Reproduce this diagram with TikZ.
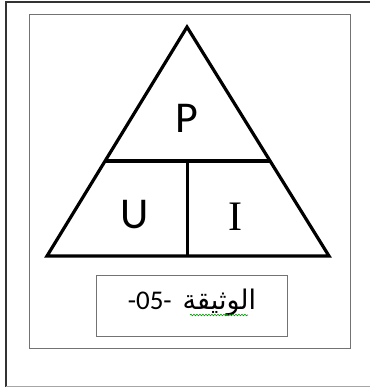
\documentclass[tikz,border=0pt]{standalone}
\usepackage{fontspec}
\setmainfont{Carlito}
\newfontfamily\timesfont{Liberation Serif}
\newfontfamily\arabicfont[Script=Arabic]{DejaVu Sans}
\TeXXeTstate=1
\usetikzlibrary{calc,decorations.pathmorphing}
\tikzset{
  frameline/.style={draw=black!55,line width=1pt},
  triline/.style={line width=3.2pt,line join=miter},
  letter/.style={font=\fontsize{44}{44}\selectfont,inner sep=0pt},
}

\begin{document}
\begin{tikzpicture}[x=1pt,y=-1pt]
  \useasboundingbox (0,0) rectangle (370,387);
  % frames
  \draw[line width=1.5pt,black!80] (370,2) -- (6,2) -- (6,387);
  \draw[frameline,draw=black!35] (6,386) -- (370,386);
  \draw[frameline] (29,15) rectangle (350,348);
  % triangle
  \coordinate (A) at (187,27);
  \coordinate (B) at (47,256);
  \coordinate (C) at (329,256);
  \draw[triline] (A) -- (B) -- (C) -- cycle;
  \coordinate (L) at ($(A)!0.585!(B)$);
  \coordinate (R) at ($(A)!0.585!(C)$);
  \coordinate (M) at ($(L)!0.5!(R)$);
  \draw[triline] (L) -- (R);
  \draw[triline] (M) -- (M |- B);
  % letters
  \node[letter] (P) at (187,118) {P};
  \node[letter] (U) at (135,215) {U};
  \node[letter,font=\timesfont\fontsize{42}{42}\selectfont] (I) at (235,217) {I};
  % document label
  \node[frameline,minimum width=191pt,minimum height=61pt,inner sep=0pt] (doc) at (191.5,305.5) {};
  \node[inner sep=0pt,anchor=base] (doctext) at (192,309)
        {\fontsize{27}{27}\arabicfont\beginR الوثيقة\hspace{11pt}\beginL\fontspec{Carlito}\fontsize{27}{27}\selectfont-05-\endL\endR};
  \draw[green!60!black,line width=0.6pt,decorate,
        decoration={snake,amplitude=0.8pt,segment length=3pt}] (190,315) -- (248,315);
\end{tikzpicture}
\end{document}
